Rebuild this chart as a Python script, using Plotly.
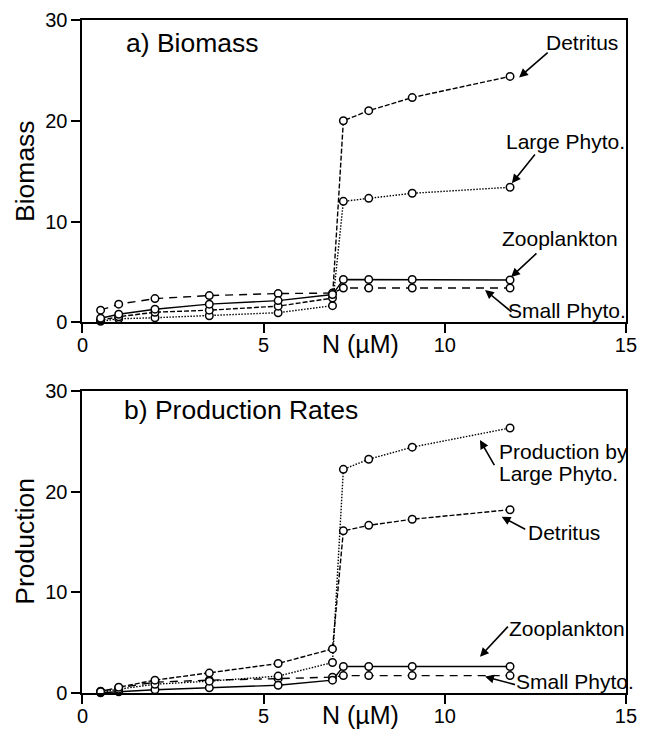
import plotly.graph_objects as go

# N concentration (uM)
N = [0.5, 1.0, 2.0, 3.5, 5.4, 6.9, 7.2, 7.9, 9.1, 11.8]

# a) Biomass
bio_detritus = [0.2, 0.55, 1.0, 1.2, 1.6, 2.4, 20.0, 21.0, 22.3, 24.4]
bio_large = [0.1, 0.35, 0.45, 0.65, 0.95, 1.65, 12.0, 12.3, 12.8, 13.4]
bio_zoo = [0.4, 0.8, 1.3, 1.8, 2.15, 2.75, 4.25, 4.25, 4.25, 4.2]
bio_small = [1.2, 1.8, 2.35, 2.65, 2.85, 2.9, 3.4, 3.4, 3.4, 3.4]

# b) Production rates
prod_large = [0.1, 0.4, 0.9, 1.2, 1.7, 3.05, 22.2, 23.2, 24.4, 26.3]
prod_detritus = [0.15, 0.6, 1.3, 2.0, 2.95, 4.4, 16.1, 16.65, 17.25, 18.2]
prod_zoo = [0.05, 0.15, 0.35, 0.55, 0.8, 1.3, 2.65, 2.65, 2.65, 2.65]
prod_small = [0.2, 0.55, 1.1, 1.3, 1.45, 1.6, 1.75, 1.75, 1.75, 1.75]

x_ticks = [0, 5, 10, 15]
y_ticks = [0, 10, 20, 30]

FONT = "Liberation Sans, Arial, Helvetica, sans-serif"
DASH = {
    "detritus": "5px,2px",
    "large": "1.5px,1.5px",
    "zoo": "solid",
    "small": "8px,6px",
}

W, H = 640, 726  # page body margin of 8px shifts the figure

fig = go.Figure()


def add(y, kind, xa, ya):
    fig.add_trace(go.Scatter(
        x=N, y=y, mode="lines+markers", xaxis=xa, yaxis=ya,
        line=dict(color="black", width=1.4, dash=DASH[kind]),
        marker=dict(symbol="circle", size=7.5, color="white",
                    line=dict(color="black", width=1.5)),
        showlegend=False, cliponaxis=False, hoverinfo="skip"))


for y, k in [(bio_small, "small"), (bio_large, "large"),
             (bio_detritus, "detritus"), (bio_zoo, "zoo")]:
    add(y, k, "x", "y")
for y, k in [(prod_small, "small"), (prod_zoo, "zoo"),
             (prod_large, "large"), (prod_detritus, "detritus")]:
    add(y, k, "x2", "y2")

ax_common = dict(range=[0, 15], tickvals=x_ticks, ticks="outside", ticklen=9,
                 tickwidth=1.5, tickcolor="black", showline=True,
                 linecolor="black", linewidth=2, mirror=True, showgrid=False,
                 zeroline=False, automargin=False, ticklabelstandoff=-5,
                 tickfont=dict(size=20, color="black", family=FONT),
                 domain=[0.1164, 0.9656])
ay_common = dict(range=[0, 30], tickvals=y_ticks, ticks="outside", ticklen=9,
                 tickwidth=1.5, tickcolor="black", showline=True,
                 linecolor="black", linewidth=2, mirror=True, showgrid=False,
                 zeroline=False, automargin=False,
                 tickfont=dict(size=20, color="black", family=FONT))

fig.update_layout(
    width=W, height=H, margin=dict(l=0, r=0, t=0, b=0),
    paper_bgcolor="white", plot_bgcolor="white",
    font=dict(family=FONT, color="black"),
    xaxis=dict(ax_common, anchor="y"),
    yaxis=dict(ay_common, anchor="x", domain=[0.5671, 0.9835]),
    xaxis2=dict(ax_common, anchor="y2"),
    yaxis2=dict(ay_common, anchor="x2", domain=[0.0561, 0.4729]),
)

ann = []


def label(text, x, y, xr, yr, size=21, xanchor="center", angle=0):
    ann.append(dict(text=text, x=x, y=y, xref=xr, yref=yr, showarrow=False,
                    xanchor=xanchor, yanchor="middle", textangle=angle,
                    font=dict(size=size, color="black", family=FONT)))


def arrow(tip, tail, xr, yr):
    ann.append(dict(text="", x=tip[0], y=tip[1], ax=tail[0], ay=tail[1],
                    xref=xr, yref=yr, axref=xr, ayref=yr, showarrow=True,
                    arrowhead=2, arrowsize=1.1, arrowwidth=1.6,
                    arrowcolor="black", standoff=0, startstandoff=0))


# panel a
label("a) Biomass", 1.15, 27.7, "x", "y", size=26.5, xanchor="left")
label("Detritus", 13.78, 27.8, "x", "y")
arrow((12.05, 24.3), (12.88, 26.9), "x", "y")
label("Large Phyto.", 13.32, 17.98, "x", "y")
arrow((11.85, 13.8), (12.52, 16.8), "x", "y")
label("Zooplankton", 13.18, 8.36, "x", "y")
arrow((11.83, 4.5), (12.57, 6.97), "x", "y")
label("Small Phyto.", 13.36, 1.12, "x", "y")
arrow((11.11, 3.2), (11.88, 0.92), "x", "y")

# panel b
label("b) Production Rates", 1.09, 28.08, "x2", "y2", size=26.5, xanchor="left")
label("Production by", 11.43, 23.94, "x2", "y2", xanchor="left")
label("Large Phyto.", 11.43, 21.83, "x2", "y2", xanchor="left")
arrow((10.97, 25.1), (11.39, 22.46), "x2", "y2")
label("Detritus", 13.28, 15.89, "x2", "y2")
arrow((11.57, 17.5), (12.26, 16.18), "x2", "y2")
label("Zooplankton", 13.37, 6.47, "x2", "y2")
arrow((10.97, 3.63), (11.78, 6.76), "x2", "y2")
label("Small Phyto.", 13.6, 1.15, "x2", "y2")
arrow((11.11, 1.65), (11.98, 0.82), "x2", "y2")

# axis titles (positions in page pixels minus the 8px body offset)
label("N (µM)", 7.67, 1 - (344 - 8) / H, "x", "paper", size=25)
label("N (µM)", 7.67, 1 - (715 - 8) / H, "x2", "paper", size=25)
label("Biomass", (25 - 8) / W, 1 - (171 - 8) / H, "paper", "paper",
      size=26.5, angle=-90)
label("Production", (25 - 8) / W, 1 - (541.7 - 8) / H, "paper", "paper",
      size=26.5, angle=-90)

fig.update_layout(annotations=ann)
fig.write_html("out.html")
